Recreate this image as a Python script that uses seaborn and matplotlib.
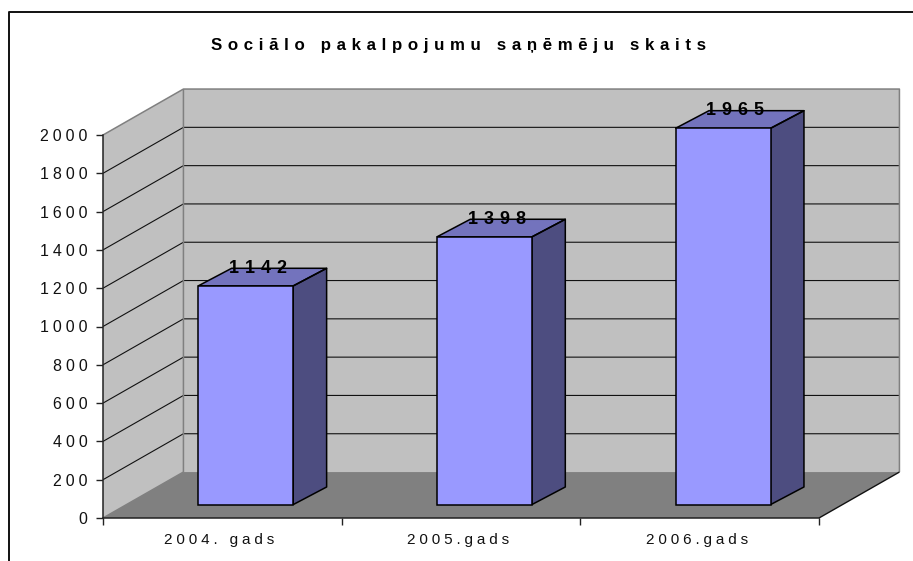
import matplotlib.pyplot as plt
import seaborn as sns
from matplotlib.lines import Line2D

categories = ['2004. gads', '2005.gads', '2006.gads']
counts = [1142, 1398, 1965]
y_ticks = [0, 200, 400, 600, 800, 1000, 1200, 1400, 1600, 1800, 2000]
title = 'Sociālo pakalpojumu saņēmēju skaits'

W, H = 913, 561
# depth of the fake 3d box, in data units (categories, value)
DEPTH_X, DEPTH_Y = 0.337, 240
BAR_X, BAR_Y = 0.098, 70
BAR_DX, BAR_DY = 0.14, 92
BAR_W = 0.398
THREE_PER_EM = '\u2004'
FOUR_PER_EM = '\u2005'

sns.set_theme(style='white')
plt.rcParams['font.family'] = ['Liberation Sans', 'DejaVu Sans']


def spaced(text, gap=FOUR_PER_EM):
    # the original has wide letter spacing
    return gap.join(text)


def proj(x, y, d=1.0):
    return x + d * DEPTH_X, y + d * DEPTH_Y


def poly(ax, pts, color, z):
    xs, ys = zip(*pts)
    ax.fill(xs, ys, color=color, lw=0, clip_on=False, zorder=z)


def line(ax, pts, color, lw, z):
    xs, ys = zip(*pts)
    ax.plot(xs, ys, color=color, lw=lw, clip_on=False, zorder=z, solid_capstyle='butt')


fig = plt.figure(figsize=(W / 100, H / 100), dpi=100, facecolor='white')
ax = fig.add_axes([103 / W, 1 - 518 / H, 716 / W, 383 / H])
ax.patch.set_visible(False)

sns.barplot(x=categories, y=counts, color='#9999FF', saturation=1, width=BAR_W,
            edgecolor='black', linewidth=1.1, ax=ax, zorder=5)
ax.set_xlim(-0.5, 2.5)
ax.set_ylim(0, 2000)
x0, x1 = -0.5, 2.5

# walls and floor
poly(ax, [(x0, 0), (x0, 2000), proj(x0, 2000), proj(x0, 0)], '#C0C0C0', 1)
poly(ax, [proj(x0, 0), proj(x0, 2000), proj(x1, 2000), proj(x1, 0)], '#C0C0C0', 1)
poly(ax, [(x0, 0), (x1, 0), proj(x1, 0), proj(x0, 0)], '#808080', 1.5)

for v in y_ticks[1:-1]:
    line(ax, [(x0, v), proj(x0, v), proj(x1, v)], '#111111', 0.8, 2)
line(ax, [(x0, 2000), proj(x0, 2000), proj(x1, 2000), proj(x1, 0)], '#808080', 1.1, 2)
line(ax, [proj(x0, 2000), proj(x0, 0), (x0, 0)], '#808080', 1.1, 2)
line(ax, [(x1, 0), proj(x1, 0)], '#111111', 1.0, 2)

# move the bars onto the floor and add top and side faces
for i, (bar, v) in enumerate(zip(ax.patches, counts)):
    bar.set_x(i - BAR_W / 2 + BAR_X)
    bar.set_y(BAR_Y)
    bar.set_clip_on(False)
    left = bar.get_x()
    right = left + BAR_W
    top = BAR_Y + v
    top_face = [(left, top), (right, top), (right + BAR_DX, top + BAR_DY), (left + BAR_DX, top + BAR_DY)]
    side_face = [(right, BAR_Y), (right + BAR_DX, BAR_Y + BAR_DY), (right + BAR_DX, top + BAR_DY), (right, top)]
    poly(ax, top_face, '#7373BD', 4)
    poly(ax, side_face, '#4D4D80', 4)
    line(ax, top_face + top_face[:1], 'black', 1.1, 4.5)
    line(ax, side_face + side_face[:1], 'black', 1.1, 4.5)
    ax.text(i + BAR_X + 0.052, top + BAR_DY, spaced(str(v), THREE_PER_EM), ha='center', va='center',
            fontsize=13, fontweight='bold', color='black', zorder=6, clip_on=False)

sns.despine(ax=ax)
for side in ['left', 'bottom']:
    ax.spines[side].set_color('#222222')
    ax.spines[side].set_linewidth(1.1)
    ax.spines[side].set_zorder(3)

ax.set_yticks(y_ticks)
ax.set_yticklabels([spaced(str(v)) for v in y_ticks], fontsize=11.5, color='#111111')
ax.set_xticks([i - 0.013 for i in range(len(categories))])
ax.set_xticklabels([spaced(c) for c in categories], fontsize=11, color='#111111')
ax.set_xticks([-0.5, 0.5, 1.5, 2.5], minor=True)
ax.tick_params(axis='y', left=True, length=5, width=1, color='#222222', pad=6)
ax.tick_params(axis='x', which='major', bottom=False, length=0, pad=11)
ax.tick_params(axis='x', which='minor', bottom=True, length=5, width=1, color='#222222')
ax.set_xlabel('')
ax.set_ylabel('')

ax.set_title(spaced(title, THREE_PER_EM), fontsize=12.2, fontweight='bold', color='black', pad=61, x=0.496)

# chart frame is only visible on left and top
fig.add_artist(Line2D([9 / W, 9 / W, 1], [0, 1 - 12 / H, 1 - 12 / H], color='#111111', lw=1.4))

fig.savefig('out.png', dpi=100)
